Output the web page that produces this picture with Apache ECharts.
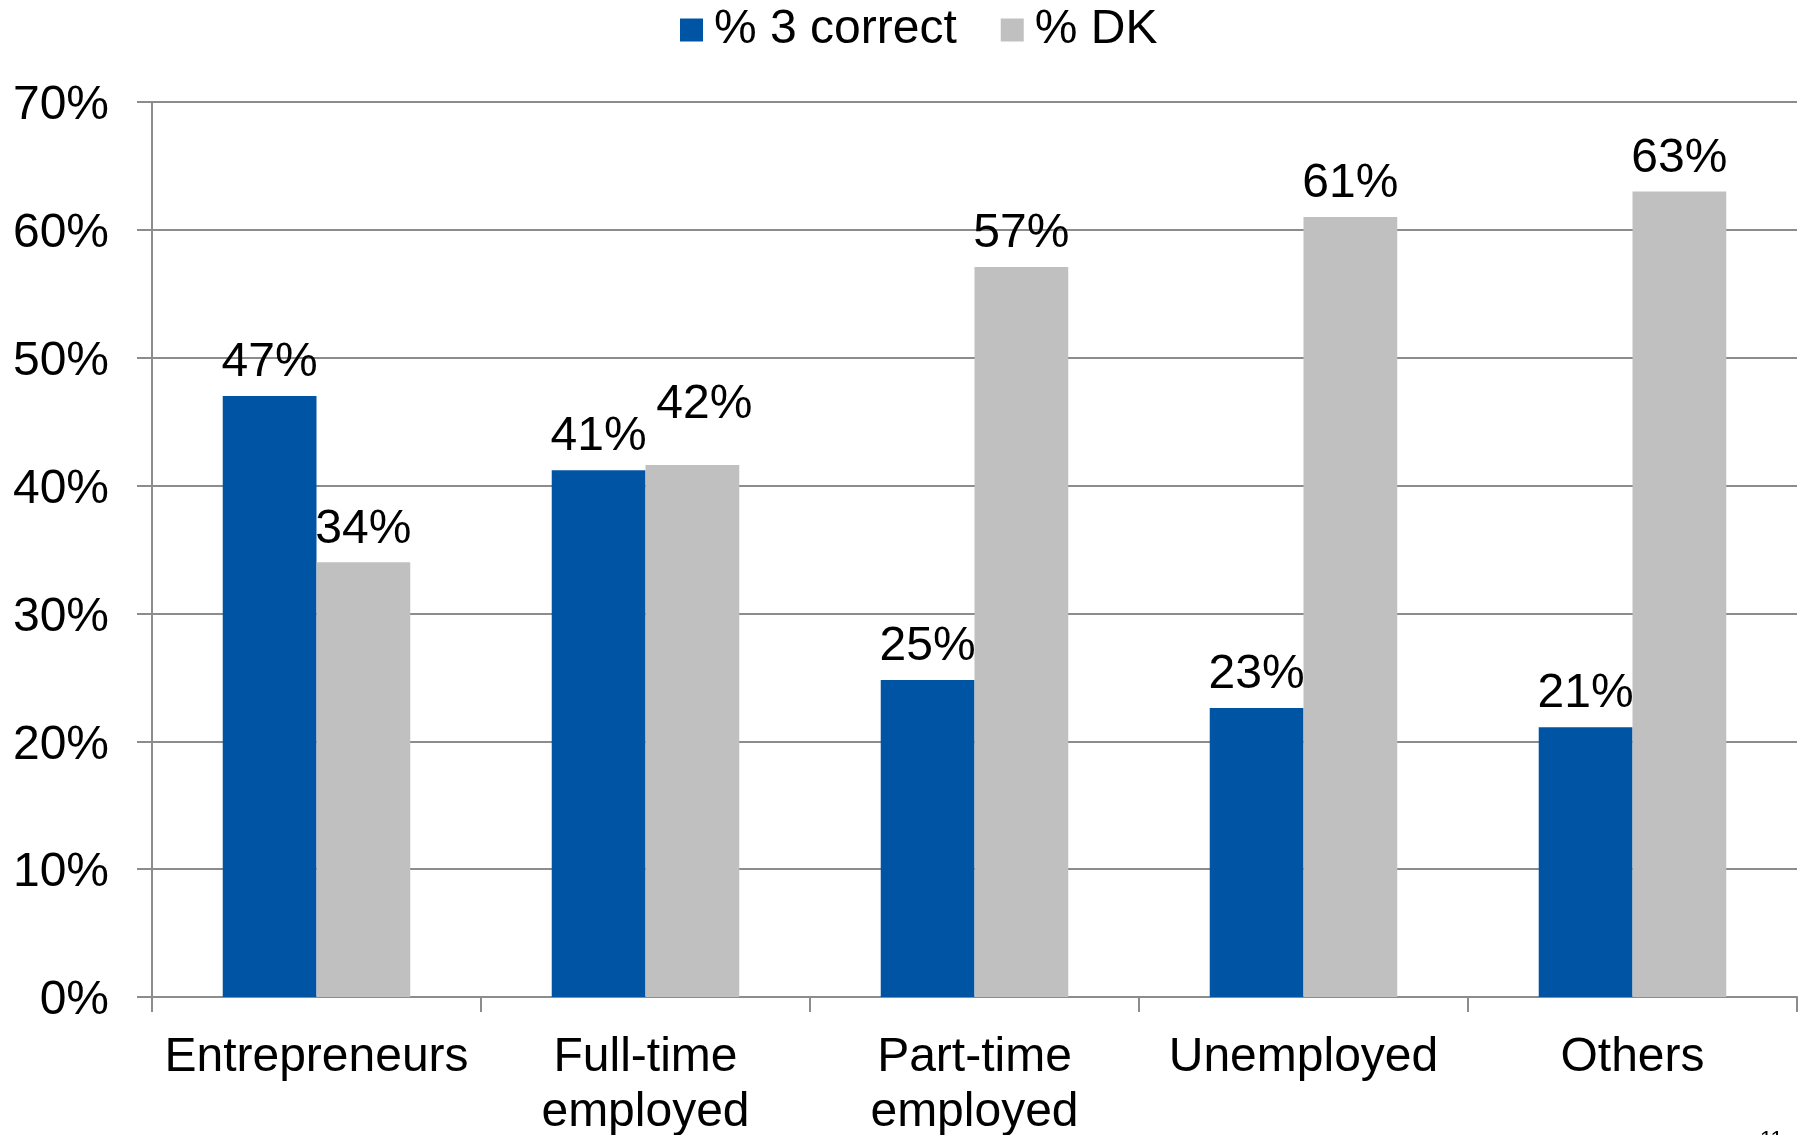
<!DOCTYPE html>
<html>
<head>
<meta charset="utf-8">
<script src="https://cdn.jsdelivr.net/npm/echarts@6/dist/echarts.min.js"></script>
<style>
html,body{margin:0;padding:0;background:#fff;}
#chart{width:1802px;height:1135px;}
</style>
</head>
<body>
<div id="chart"></div>
<script>
const categories = ["Entrepreneurs", "Full-time\nemployed", "Part-time\nemployed", "Unemployed", "Others"];
const correct3 = [47, 41.2, 24.8, 22.6, 21.1];
const dontKnow = [34, 41.6, 57.1, 61, 63];
const correct3Labels = ["47%", "41%", "25%", "23%", "21%"];
const dontKnowLabels = ["34%", "42%", "57%", "61%", "63%"];
const seriesNames = ["% 3 correct", "% DK"];
const yTicks = [0, 10, 20, 30, 40, 50, 60, 70];

const FONT = "'Liberation Sans', Arial, sans-serif";
const chart = echarts.init(document.getElementById('chart'), null, {renderer: 'canvas'});

const dkData = dontKnow.map((v, i) => i === 1
  ? {value: v, label: {offset: [12, -27]}}
  : v);

chart.setOption({
  animation: false,
  backgroundColor: '#ffffff',
  textStyle: {fontFamily: FONT},
  legend: {
    left: 675, top: 1,
    itemWidth: 23, itemHeight: 23,
    itemGap: 44,
    icon: 'rect',
    textStyle: {fontFamily: FONT, fontSize: 48, color: '#000', padding: [0, 0, 0, 6]},
    data: seriesNames
  },
  grid: {left: 152, right: 5, top: 102, bottom: 138, containLabel: false, outerBoundsMode: 'none'},
  xAxis: {
    type: 'category',
    data: categories,
    axisLine: {lineStyle: {color: '#8c8c8c', width: 2}},
    axisTick: {show: true, length: 15, inside: false, lineStyle: {color: '#8c8c8c', width: 2}},
    axisLabel: {fontFamily: FONT, fontSize: 48, color: '#000', margin: 33, lineHeight: 55, interval: 0}
  },
  yAxis: {
    type: 'value',
    min: yTicks[0], max: yTicks[yTicks.length - 1], interval: 10,
    axisLine: {show: true, lineStyle: {color: '#8c8c8c', width: 2}},
    axisTick: {show: true, length: 15, lineStyle: {color: '#8c8c8c', width: 2}},
    splitLine: {show: true, lineStyle: {color: '#8c8c8c', width: 2}},
    axisLabel: {fontFamily: FONT, fontSize: 48, color: '#000', margin: 43,
      formatter: v => '{a|' + v + '%}',
      rich: {a: {fontFamily: FONT, fontSize: 48, color: '#000', padding: [8, 0, 0, 0]}}}
  },
  series: [
    {
      name: seriesNames[0], type: 'bar', data: correct3,
      barGap: '0%', barCategoryGap: '43%',
      itemStyle: {color: '#0054A4'},
      label: {show: true, position: 'top', distance: 9, fontFamily: FONT, fontSize: 48, color: '#000',
        formatter: p => correct3Labels[p.dataIndex]}
    },
    {
      name: seriesNames[1], type: 'bar', data: dkData,
      barGap: '0%', barCategoryGap: '43%',
      itemStyle: {color: '#C0C0C0'},
      label: {show: true, position: 'top', distance: 9, fontFamily: FONT, fontSize: 48, color: '#000',
        formatter: p => dontKnowLabels[p.dataIndex]}
    }
  ],
  graphic: [{
    type: 'text', left: 1760, top: 1129,
    style: {text: '11', font: "22px 'Liberation Sans', Arial, sans-serif", fill: '#000'}
  }]
});
</script>
</body>
</html>
